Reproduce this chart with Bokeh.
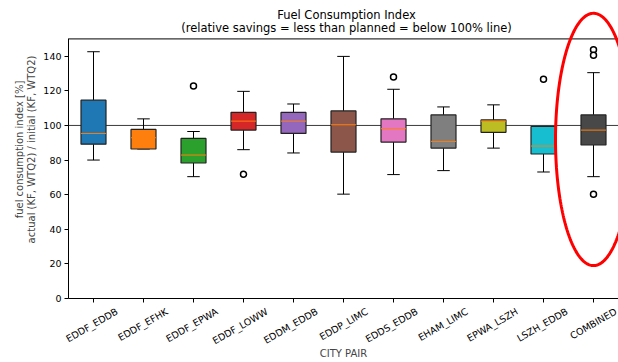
import numpy as np
from bokeh.plotting import figure
from bokeh.models import Range1d, LinearAxis, FixedTicker, Span, PolyAnnotation, Label
from bokeh.embed import file_html
from bokeh.resources import INLINE

# ---------------- data ----------------
categories = ["EDDF_EDDB", "EDDF_EFHK", "EDDF_EPWA", "EDDF_LOWW", "EDDM_EDDB",
              "EDDP_LIMC", "EDDS_EDDB", "EHAM_LIMC", "EPWA_LSZH", "LSZH_EDDB", "COMBINED"]
whisker_low = [80.0, 86.4, 70.4, 86.0, 84.1, 60.3, 71.6, 73.9, 86.9, 73.1, 70.4]
q1 = [89.2, 86.4, 78.3, 97.3, 95.4, 84.6, 90.4, 86.9, 96.0, 83.5, 88.7]
median = [95.4, 92.9, 82.9, 102.5, 102.5, 100.4, 98.1, 90.8, 102.5, 88.1, 97.3]
q3 = [114.6, 97.7, 92.5, 107.5, 107.5, 108.4, 103.8, 106.1, 103.2, 99.4, 106.1]
whisker_high = [142.6, 103.8, 96.5, 119.7, 112.4, 139.9, 120.9, 110.7, 111.9, 99.4, 130.5]
box_colors = ["#1f77b4", "#ff7f0e", "#2ca02c", "#d62728", "#9467bd", "#8c564b",
              "#e377c2", "#7f7f7f", "#bcbd22", "#17becf", "#484848"]
outlier_pos = [3, 4, 7, 10, 11, 11, 11]
outlier_val = [122.8, 71.8, 128.0, 126.7, 143.7, 140.5, 60.3]
y_ticks = [0, 20, 40, 60, 80, 100, 120, 140]
y_max = 150
reference_level = 100
# hand-drawn highlight ellipse around COMBINED (center x, center y, half width, half height)
highlight = (11, 91.9, 0.76, 72.9)

title_line1 = "Fuel Consumption Index"
title_line2 = "(relative savings = less than planned = below 100% line)"
y_label = "fuel consumption index [%]\nactual (KF, WTQ2) / initial (KF, WTQ2)"
x_label = "CITY PAIR"

FONT = "DejaVu Sans"
pos = np.arange(1, len(categories) + 1)
BOX_W = 0.5
CAP_W = 0.25
X_START, X_END = 0.5, 11.5
Y_TOP = 172.2          # frame continues above the top spine so titles/ellipse can live there
LABEL_SHIFT = 0.47     # emulate centred rotated tick labels

p = figure(width=618, height=362, output_backend="svg", toolbar_location=None,
           x_range=Range1d(X_START, X_END), y_range=Range1d(0, Y_TOP),
           x_axis_location=None,
           min_border_left=68, min_border_right=0, min_border_top=0, min_border_bottom=63)
p.title.visible = False
p.outline_line_color = None
p.xgrid.visible = False
p.ygrid.visible = False
p.background_fill_color = "white"

# reference line and top spine
p.add_layout(Span(location=reference_level, dimension="width", line_color="#3a3a3a",
                  line_width=1, level="underlay"))
p.add_layout(Span(location=y_max, dimension="width", line_color="black", line_width=1))

# whiskers
p.segment(x0=pos, x1=pos, y0=q3, y1=whisker_high, line_color="black", line_width=1)
p.segment(x0=pos, x1=pos, y0=q1, y1=whisker_low, line_color="black", line_width=1)
p.segment(x0=pos - CAP_W / 2, x1=pos + CAP_W / 2, y0=whisker_high, y1=whisker_high,
          line_color="black", line_width=1)
p.segment(x0=pos - CAP_W / 2, x1=pos + CAP_W / 2, y0=whisker_low, y1=whisker_low,
          line_color="black", line_width=1)
# boxes
p.vbar(x=pos, width=BOX_W, bottom=q1, top=q3, fill_color=box_colors,
       line_color="#222222", line_width=1.2)
# medians
p.segment(x0=pos - BOX_W / 2, x1=pos + BOX_W / 2, y0=median, y1=median,
          line_color="#ff7f0e", line_width=1)
# outliers
p.scatter(x=outlier_pos, y=outlier_val, marker="circle", size=6, fill_color="white",
          line_color="black", line_width=1.5)

# highlight ellipse
t = np.linspace(0, 2 * np.pi, 240)
cx, cy, hw, hh = highlight
p.add_layout(PolyAnnotation(xs=list(cx + hw * np.cos(t)), ys=list(cy + hh * np.sin(t)),
                            xs_units="data", ys_units="data", fill_color=None, fill_alpha=0,
                            line_color="red", line_alpha=1, line_width=3, level="overlay"))

# titles
title_x = (X_START + X_END) / 2
p.add_layout(Label(x=title_x, y=y_max, text=title_line2, x_offset=3, y_offset=10.5,
                   text_align="center", text_baseline="middle", text_font=FONT,
                   text_font_size="11.5px", text_color="black"))
p.add_layout(Label(x=title_x, y=y_max, text=title_line1, x_offset=3, y_offset=23.5,
                   text_align="center", text_baseline="middle", text_font=FONT,
                   text_font_size="11.5px", text_color="black"))

# y axis
ya = p.yaxis[0]
ya.ticker = FixedTicker(ticks=y_ticks)
ya.bounds = (0, y_max)
ya.major_tick_out = 4
ya.major_tick_in = 0
ya.minor_tick_line_color = None
ya.major_label_standoff = 3
ya.major_label_text_font = FONT
ya.major_label_text_font_size = "9.5px"
ya.major_label_text_color = "black"
ya.axis_label = y_label
ya.axis_label_text_font = FONT
ya.axis_label_text_font_size = "10px"
ya.axis_label_text_font_style = "normal"
ya.axis_label_text_line_height = 1.1
ya.axis_label_standoff = 3
ya.axis_line_color = "black"

# x axis: labels on a shifted range so rotated labels are centred on the ticks;
# the visible tick marks are the minor ticks placed back on the box positions
p.extra_x_ranges = {"labels": Range1d(X_START - LABEL_SHIFT, X_END - LABEL_SHIFT)}
xl = LinearAxis(x_range_name="labels")
xl.ticker = FixedTicker(ticks=list(pos), minor_ticks=list(pos - LABEL_SHIFT))
xl.major_label_overrides = {int(i): c for i, c in zip(pos, categories)}
xl.major_label_orientation = np.pi / 6
xl.major_label_text_font = FONT
xl.major_label_text_font_size = "9.5px"
xl.major_label_text_color = "black"
xl.major_label_standoff = 8
xl.axis_line_color = "black"
xl.major_tick_line_color = None
xl.major_tick_out = 4
xl.major_tick_in = 0
xl.minor_tick_line_color = "black"
xl.minor_tick_out = 4
xl.minor_tick_in = 0
xl.axis_label = x_label
xl.axis_label_text_font = FONT
xl.axis_label_text_font_size = "10px"
xl.axis_label_text_font_style = "normal"
xl.axis_label_standoff = -6
p.add_layout(xl, "below")

open("out.html", "w").write(file_html(p, INLINE))
